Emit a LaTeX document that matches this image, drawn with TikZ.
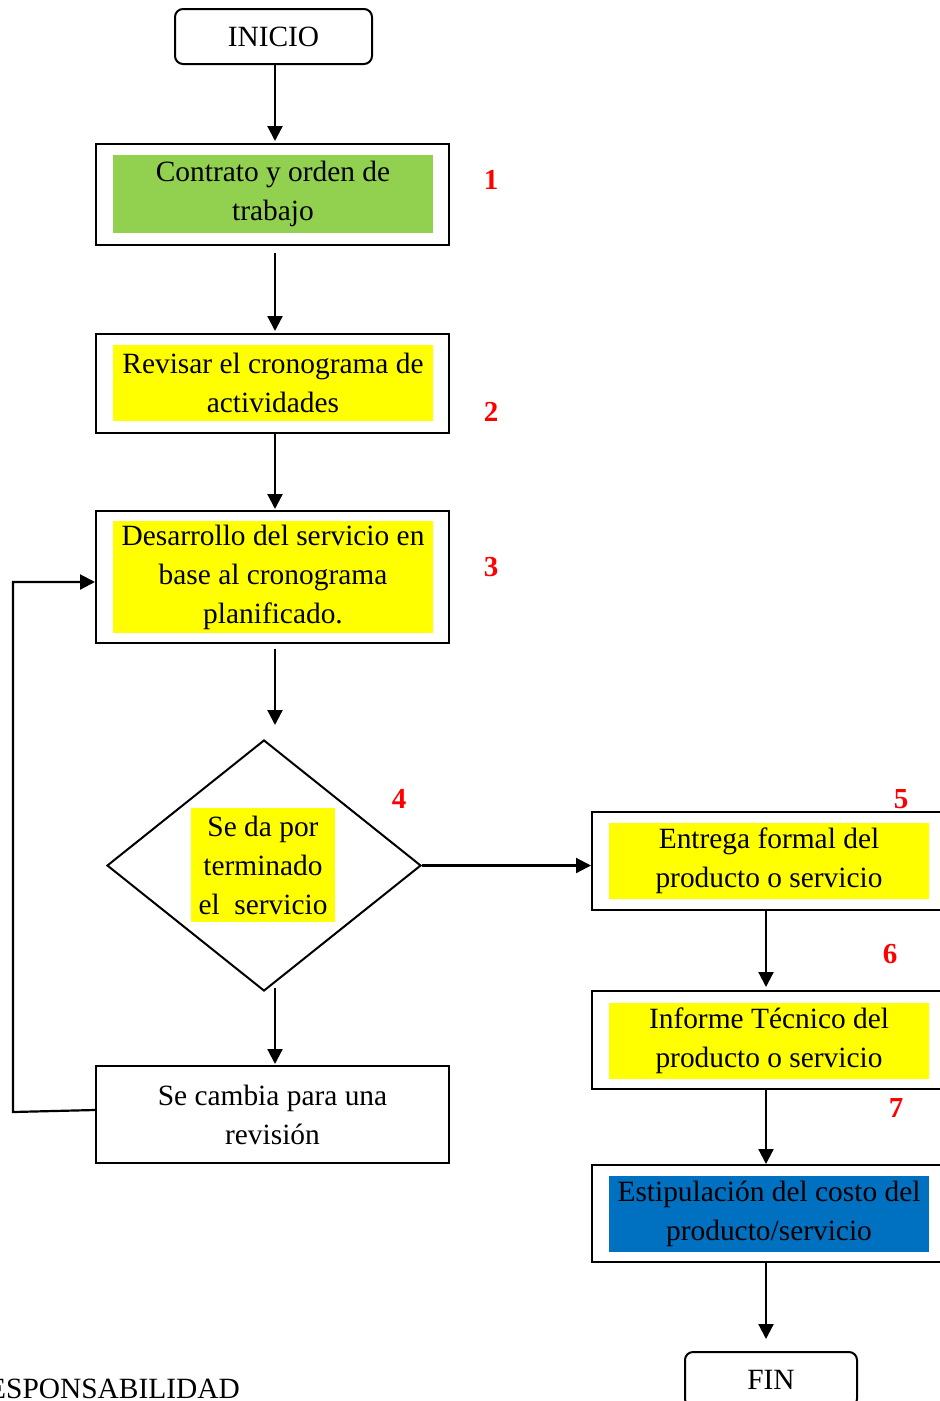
\documentclass[tikz,border=0pt]{standalone}
\usepackage{fontspec}
\setmainfont{Liberation Serif}
\usetikzlibrary{arrows.meta,shapes.geometric}
\definecolor{stepgreen}{HTML}{92D050}
\definecolor{stepyellow}{HTML}{FFFF00}
\definecolor{stepblue}{HTML}{0070C0}
\definecolor{numred}{HTML}{FF0000}
\begin{document}
\begin{tikzpicture}[x=1pt,y=-1pt,
  every node/.style={font=\fontsize{29.4}{39}\selectfont},
  frame/.style={draw,line width=2pt,minimum width=353pt,inner sep=0pt},
  terminal/.style={draw,line width=2pt,rounded corners=8pt,inner sep=0pt,minimum height=55pt},
  fillbox/.style={inner sep=0pt,align=center,minimum width=320pt},
  num/.style={text=numred,font=\fontsize{29}{30}\selectfont\bfseries},
  arr/.style={line width=2.2pt,-{Triangle[length=15pt,width=15pt]}}]
\useasboundingbox (0,0) rectangle (940,1401);

% left column
\node[terminal,minimum width=197pt] (start) at (273.5,36.5) {INICIO};
\node[frame,minimum height=101pt] (b1) at (272.5,194.5) {};
\node[fillbox,fill=stepgreen,minimum height=78pt] (f1) at (273,194) {Contrato y orden de\\trabajo};
\node[frame,minimum height=99pt] (b2) at (272.5,383.5) {};
\node[fillbox,fill=stepyellow,minimum height=76pt] (f2) at (273,383) {Revisar el cronograma de\\actividades};
\node[frame,minimum height=132pt] (b3) at (272.5,577) {};
\node[fillbox,fill=stepyellow,minimum height=112pt] (f3) at (273,577) {Desarrollo del servicio en\\base al cronograma\\planificado.};
\node[draw,diamond,line width=2pt,inner sep=0pt,minimum width=314pt,minimum height=251pt] (dia) at (264,865.5) {};
\node[fillbox,fill=stepyellow,minimum width=144pt,minimum height=114pt] (fd) at (263,865) {Se da por\\terminado\\el\ \ servicio};
\node[frame,minimum height=97pt,align=center] (b4) at (272.5,1114.5) {Se cambia para una\\revisión};

% right column
\node[frame,minimum height=98pt] (b5) at (768.5,861) {};
\node[fillbox,fill=stepyellow,minimum height=76pt] (f5) at (769,861) {Entrega formal del\\producto o servicio};
\node[frame,minimum height=98pt] (b6) at (768.5,1040) {};
\node[fillbox,fill=stepyellow,minimum height=76pt] (f6) at (769,1041) {Informe Técnico del\\producto o servicio};
\node[frame,minimum height=97pt] (b7) at (768.5,1213.5) {};
\node[fillbox,fill=stepblue,minimum height=76pt] (f7) at (769,1214) {Estipulación del costo del\\producto/servicio};
\node[terminal,minimum width=172pt] (stop) at (771,1379.5) {FIN};

% step numbers
\node[num] (n1) at (491,180) {1};
\node[num] (n2) at (491,412) {2};
\node[num] (n3) at (491,567) {3};
\node[num] (n4) at (399,799) {4};
\node[num] (n5) at (901,799) {5};
\node[num] (n6) at (890,954) {6};
\node[num] (n7) at (896,1108) {7};

\node[anchor=base east,inner sep=0pt] (resp) at (240,1398) {RESPONSABILIDAD};

% connectors
\draw[arr] ([xshift=1.5pt]start.south) -- ([xshift=2.5pt,yshift=2pt]b1.north);
\draw[arr,shorten <=7pt] ([xshift=2.5pt]b1.south) -- ([xshift=2.5pt,yshift=2pt]b2.north);
\draw[arr] ([xshift=2.5pt]b2.south) -- ([xshift=2.5pt,yshift=1pt]b3.north);
\draw[arr,shorten <=5pt] ([xshift=2.5pt]b3.south) -- ([xshift=11pt,yshift=14pt]dia.north);
\draw[arr] ([xshift=11pt,yshift=4pt]dia.south) -- ([xshift=2.5pt,yshift=1pt]b4.north);
\draw[arr] (dia.east) -- (dia.east -| b5.west);
\coordinate (loop) at (13,1112);
\draw[arr] ([yshift=4.5pt]b4.west) -- (loop) |- ([yshift=-5pt]b3.west);
\draw[arr] ([xshift=-2.5pt]b5.south) -- ([xshift=-2.5pt,yshift=3pt]b6.north);
\draw[arr] ([xshift=-2.5pt]b6.south) -- ([xshift=-2.5pt]b7.north);
\draw[arr] ([xshift=-2.5pt]b7.south) -- ([xshift=-5pt,yshift=12pt]stop.north);
\end{tikzpicture}
\end{document}
